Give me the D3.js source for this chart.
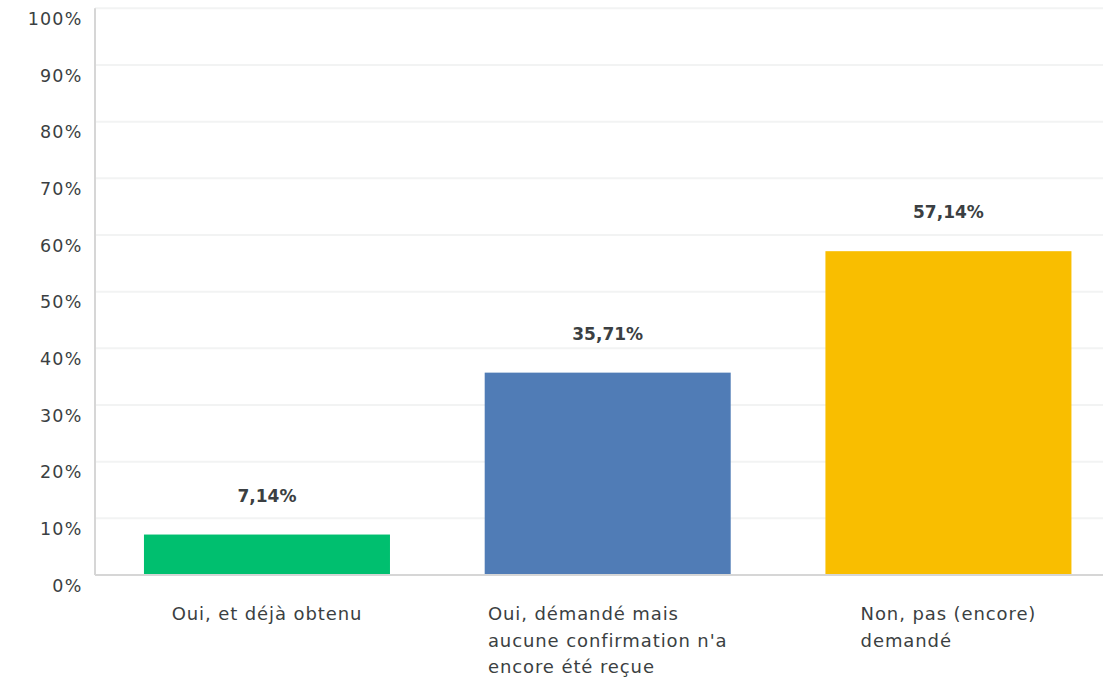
<!DOCTYPE html>
<html>
<head>
<meta charset="utf-8">
<script src="https://cdn.jsdelivr.net/npm/d3@7"></script>
<style>
  html, body { margin: 0; padding: 0; background: #fff; }
  svg { display: block; }
  text { font-family: "DejaVu Sans", sans-serif; }
</style>
</head>
<body>
<svg id="chart" width="1109" height="681"></svg>
<script>
const categories = [
  "Oui, et déjà obtenu",
  "Oui, démandé mais aucune confirmation n'a encore été reçue",
  "Non, pas (encore) demandé"
];
const categoryLines = [
  ["Oui, et déjà obtenu"],
  ["Oui, démandé mais", "aucune confirmation n'a", "encore été reçue"],
  ["Non, pas (encore)", "demandé"]
];
const values = [7.14, 35.71, 57.14];
const valueLabels = ["7,14%", "35,71%", "57,14%"];
const colors = ["#00BF6F", "#507CB6", "#F9BE00"];
const yTicks = [0, 10, 20, 30, 40, 50, 60, 70, 80, 90, 100];

const svg = d3.select("#chart");
const x0 = 95, x1 = 1103, yBase = 575, yTop = 8.3;

const x = d3.scaleBand().domain(categories).range([96.6, 1118.8]).paddingInner(0.278).paddingOuter(0.139);
const y = d3.scaleLinear().domain([0, 100]).range([yBase, yTop]);

// gridlines
svg.append("g").selectAll("line").data(yTicks.filter(d => d > 0)).join("line")
  .attr("x1", x0).attr("x2", x1)
  .attr("y1", d => y(d)).attr("y2", d => y(d))
  .attr("stroke", "#f2f3f3").attr("stroke-width", 2);

// y axis
const yAxis = d3.axisLeft(y).tickValues(yTicks).tickFormat(d => d + "%").tickSize(0).tickPadding(12.5);
const gy = svg.append("g").attr("transform", `translate(${x0},0)`).call(yAxis);
gy.select(".domain").remove();
gy.selectAll("text").attr("font-size", 17.5).attr("fill", "#3b3f42").attr("dy", "0.92em")
  .attr("letter-spacing", 1.2)
  .attr("font-family", "DejaVu Sans, sans-serif");

// axis lines
svg.append("line").attr("x1", x0).attr("x2", x0).attr("y1", yTop).attr("y2", yBase)
  .attr("stroke", "#d6d6d6").attr("stroke-width", 2);
svg.append("line").attr("x1", x0).attr("x2", x1).attr("y1", yBase).attr("y2", yBase)
  .attr("stroke", "#d6d6d6").attr("stroke-width", 2);

// bars
svg.append("g").selectAll("rect").data(categories).join("rect")
  .attr("x", d => x(d))
  .attr("width", x.bandwidth())
  .attr("y", (d, i) => y(values[i]))
  .attr("height", (d, i) => yBase - 1 - y(values[i]))
  .attr("fill", (d, i) => colors[i]);

// value labels
svg.append("g").selectAll("text").data(categories).join("text")
  .attr("x", d => x(d) + x.bandwidth() / 2)
  .attr("y", (d, i) => y(values[i]) - 33)
  .attr("text-anchor", "middle")
  .attr("font-size", 17).attr("font-weight", "bold").attr("fill", "#3b3f42")
  .text((d, i) => valueLabels[i]);

// category labels: block centered under bar, lines left-aligned
const cg = svg.append("g");
categories.forEach((c, i) => {
  const t = cg.append("text").attr("font-size", 18).attr("letter-spacing", 0.9).attr("fill", "#3b3f42");
  categoryLines[i].forEach((ln, j) => {
    t.append("tspan").attr("y", 620 + j * 26.5).text(ln);
  });
  const w = d3.max(t.selectAll("tspan").nodes(), n => n.getComputedTextLength());
  const left = x(c) + x.bandwidth() / 2 - w / 2;
  t.selectAll("tspan").attr("x", left);
});
</script>
</body>
</html>
